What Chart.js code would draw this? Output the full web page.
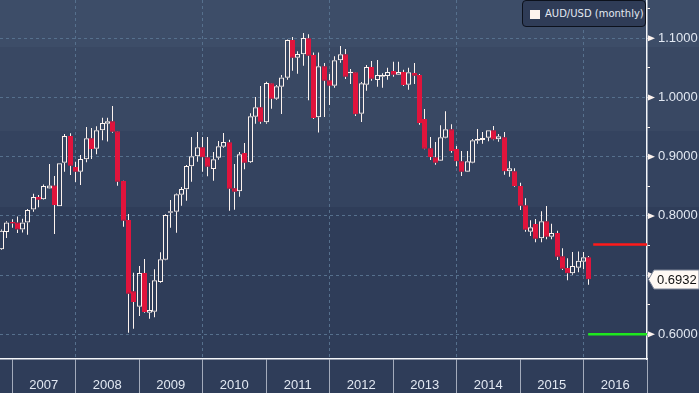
<!DOCTYPE html>
<html>
<head>
<meta charset="utf-8">
<script src="https://cdn.jsdelivr.net/npm/chart.js@4.4.1/dist/chart.umd.min.js"></script>
<style>
  html, body { margin: 0; padding: 0; }
  body {
    width: 699px; height: 393px; overflow: hidden; position: relative;
    background: linear-gradient(to bottom,
      #3d4d68 0, #3d4d68 47px,
      #394863 47px, #394863 131px,
      #34435f 131px, #34435f 207px,
      #2f3d59 207px, #2f3d59 100%);
  }
  #legend {
    position: absolute; left: 522px; top: 0; width: 122px; height: 25px;
    background: #2f3c57; border: 1px solid #0c111c; border-radius: 4px;
    font: 10px "DejaVu Sans", sans-serif; color: #e3e9f2;
  }
  #legend i { position: absolute; left: 7px; top: 9px; width: 10px; height: 9px; background: #fdf3ee; }
  #legend span { position: absolute; left: 22px; top: 7px; white-space: nowrap; }
</style>
</head>
<body>
<canvas id="chart" width="699" height="393"></canvas>
<div id="legend"><i></i><span>AUD/USD (monthly)</span></div>
<script>
// monthly candles, AUD/USD
const months = [
  "2006-10","2006-11","2006-12",
  "2007-01","2007-02","2007-03","2007-04","2007-05","2007-06","2007-07","2007-08","2007-09","2007-10","2007-11","2007-12",
  "2008-01","2008-02","2008-03","2008-04","2008-05","2008-06","2008-07","2008-08","2008-09","2008-10","2008-11","2008-12",
  "2009-01","2009-02","2009-03","2009-04","2009-05","2009-06","2009-07","2009-08","2009-09","2009-10","2009-11","2009-12",
  "2010-01","2010-02","2010-03","2010-04","2010-05","2010-06","2010-07","2010-08","2010-09","2010-10","2010-11","2010-12",
  "2011-01","2011-02","2011-03","2011-04","2011-05","2011-06","2011-07","2011-08","2011-09","2011-10","2011-11","2011-12",
  "2012-01","2012-02","2012-03","2012-04","2012-05","2012-06","2012-07","2012-08","2012-09","2012-10","2012-11","2012-12",
  "2013-01","2013-02","2013-03","2013-04","2013-05","2013-06","2013-07","2013-08","2013-09","2013-10","2013-11","2013-12",
  "2014-01","2014-02","2014-03","2014-04","2014-05","2014-06","2014-07","2014-08","2014-09","2014-10","2014-11","2014-12",
  "2015-01","2015-02","2015-03","2015-04","2015-05","2015-06","2015-07","2015-08","2015-09","2015-10","2015-11","2015-12",
  "2016-01"
];
const open = [
  .7435,.773,.789,
  .789,.777,.789,.811,.832,.828,.8465,.8515,.8162,.890,.935,.8826,
  .8747,.8956,.931,.9135,.9446,.9557,.9598,.9429,.859,.793,.6726,.6466,
  .7035,.6365,.6382,.6883,.726,.8054,.8071,.8358,.845,.8838,.9007,.9159,
  .899,.8792,.8983,.9169,.9243,.8466,.8416,.9062,.8905,.9676,.9834,.9581,
  1.024,.998,1.018,1.0334,1.0971,1.0672,1.073,1.100,1.0718,.9666,1.0527,1.029,
  1.020,1.0628,1.073,1.041,1.0426,.9726,1.0216,1.0515,1.0296,1.035,1.0363,1.0448,
  1.0385,1.0431,1.0216,1.0414,1.038,.9637,.9142,.899,.8932,.9321,.9463,.913,
  .8922,.8747,.8899,.927,.9282,.932,.9446,.9294,.9328,.8753,.8753,.8505,
  .8179,.7733,.7863,.7622,.7909,.7649,.7711,.7318,.712,.703,.7125,.7226,
  .730
];
const high = [
  .777,.791,.7945,
  .799,.795,.8115,.8375,.8355,.853,.8877,.8675,.889,.9385,.9395,.8916,
  .9029,.950,.9485,.9513,.966,.966,.9856,.9435,.8595,.8032,.704,.7154,
  .7272,.6867,.710,.7385,.803,.8268,.838,.8488,.886,.9333,.9417,.9333,
  .9333,.908,.9265,.940,.9287,.8877,.908,.9231,.9733,1.0008,1.0194,1.0267,
  1.0245,1.021,1.038,1.098,1.102,1.078,1.109,1.1068,1.076,1.076,1.0583,1.0397,
  1.0696,1.087,1.0818,1.0482,1.043,1.0262,1.055,1.0617,1.0634,1.0409,1.0503,1.0605,
  1.0605,1.047,1.0503,1.0583,1.0397,.9806,.9333,.9248,.953,.9767,.9547,.918,
  .9096,.9096,.930,.9468,.9417,.9446,.9519,.9383,.9417,.8922,.8804,.856,
  .830,.7926,.7947,.8078,.8167,.7868,.775,.7453,.7284,.739,.740,.739,
  .7323
];
const low = [
  .7425,.7625,.780,
  .771,.772,.768,.807,.8145,.8275,.846,.7695,.8162,.8744,.8693,.8574,
  .8522,.8905,.896,.904,.928,.9255,.9405,.851,.7818,.6027,.6095,.631,
  .6365,.6263,.629,.687,.725,.780,.7716,.8172,.8257,.8578,.8916,.8747,
  .8669,.8595,.895,.9152,.8088,.8105,.8324,.8787,.8894,.9557,.9557,.9557,
  .981,.996,.972,1.030,1.0453,1.040,1.0537,.9953,.9637,.941,.9671,.9873,
  1.0166,1.0588,1.0313,1.0228,.9688,.9586,1.0115,1.0284,1.0183,1.0166,1.030,1.035,
  1.038,1.0194,1.0132,1.0228,.954,.9125,.8944,.8865,.8927,.931,.9068,.8838,
  .8674,.8742,.889,.922,.922,.926,.928,.9253,.8696,.8662,.8493,.810,
  .7733,.766,.7554,.7554,.7605,.7605,.7255,.7086,.6912,.7007,.7047,.710,
  .6838
];
const close = [
  .775,.789,.787,
  .777,.789,.810,.832,.8275,.8505,.8515,.8185,.8889,.935,.8848,.8747,
  .8961,.931,.913,.9446,.957,.9598,.9422,.8578,.7919,.6686,.6546,.7035,
  .6377,.641,.6912,.7267,.8015,.8078,.8365,.8454,.8843,.9007,.9159,.899,
  .8831,.8956,.9176,.9248,.846,.8409,.904,.8899,.9682,.9834,.9591,1.0245,
  .998,1.019,1.034,1.0971,1.0672,1.0735,1.1005,1.0706,.9654,1.0527,1.0284,1.020,
  1.0628,1.073,1.0351,1.0426,.9716,1.024,1.0515,1.0318,1.038,1.038,1.0431,1.0385,
  1.0431,1.0211,1.0426,1.0368,.957,.9135,.8995,.8899,.9328,.9463,.9096,.8922,
  .8747,.8922,.9277,.930,.9316,.9446,.929,.9345,.8753,.8804,.8505,.8172,
  .7767,.7807,.7615,.7909,.7649,.7711,.7311,.7108,.703,.7154,.7243,.730,
  .6932
];

// horizontal levels drawn at the right end
const resistanceLevel = [0.7518, 0.7518];
const supportLevel = [0.6000, 0.6000];
const resistanceSpan = [2016.153, 2017];
const supportSpan = [2016.074, 2017];

// axis ticks
const yTicks = [0.60,0.65,0.70,0.75,0.80,0.85,0.90,0.95,1.00,1.05,1.10,1.15];
const xTicks = [2007,2007.5,2008,2008.5,2009,2009.5,2010,2010.5,2011,2011.5,2012,2012.5,
                2013,2013.5,2014,2014.5,2015,2015.5,2016,2016.5,2017];

const RED = "#e0143c";
const CREAM = "#fdf3ee";
const GRID = "#56708d";
const CLEAR = "rgba(0,0,0,0)";

// candle sits at the end of its month
function toX(m) {
  const [y, mo] = m.split("-").map(Number);
  return y + mo / 12;
}
const isUp = i => close[i] >= open[i];

const bodies = months.map((m, i) => ({ x: toX(m), y: [open[i], close[i]] }));
const upperWicks = months.map((m, i) => ({ x: toX(m), y: [Math.max(open[i], close[i]), high[i]] }));
const lowerWicks = months.map((m, i) => ({ x: toX(m), y: [low[i], Math.min(open[i], close[i])] }));

const isMajorY = v => Math.round(v * 100) % 10 === 0;

// snap candles to half pixels so 1px wicks stay crisp
const snapBars = {
  id: "snapBars",
  afterDatasetsUpdate(chart) {
    chart.data.datasets.forEach((ds, i) => {
      if (ds.type === "line") return;
      chart.getDatasetMeta(i).data.forEach(el => { el.x = Math.round(el.x - 0.5) + 0.5; });
    });
  }
};

const axisMarks = {
  id: "axisMarks",
  afterDraw(chart) {
    const { ctx, chartArea, scales } = chart;
    const ys = scales.y;
    const x0 = chartArea.right;
    ctx.save();
    ctx.fillStyle = CREAM;
    yTicks.filter(isMajorY).forEach(v => {
      const y = ys.getPixelForValue(v);
      ctx.beginPath();
      ctx.moveTo(x0 + 1, y - 3);
      ctx.lineTo(x0 + 8, y);
      ctx.lineTo(x0 + 1, y + 3);
      ctx.closePath();
      ctx.fill();
    });
    // last price tag
    const last = close[close.length - 1];
    const ty = Math.round(ys.getPixelForValue(last)) + 0.5;
    ctx.beginPath();
    ctx.moveTo(x0 + 1.5, ty);
    ctx.lineTo(x0 + 7, ty - 9.5);
    ctx.lineTo(699, ty - 9.5);
    ctx.lineTo(699, ty + 9.5);
    ctx.lineTo(x0 + 7, ty + 9.5);
    ctx.closePath();
    ctx.fillStyle = "#fff9f4";
    ctx.fill();
    ctx.strokeStyle = "#7d8597";
    ctx.lineWidth = 1;
    ctx.stroke();
    ctx.fillStyle = "#111";
    ctx.font = "13px 'Liberation Sans'";
    ctx.textBaseline = "middle";
    ctx.fillText(last.toFixed(4), x0 + 10, ty + 1);
    ctx.restore();
  }
};

new Chart(document.getElementById("chart"), {
  type: "bar",
  data: {
    datasets: [
      {
        type: "line", data: resistanceSpan.map((x, i) => ({ x, y: resistanceLevel[i] })),
        borderColor: "#ff1a1a", borderWidth: 2.5, pointRadius: 0, order: 0
      },
      {
        type: "line", data: supportSpan.map((x, i) => ({ x, y: supportLevel[i] })),
        borderColor: "#1ee81e", borderWidth: 2.5, pointRadius: 0, order: 0
      },
      {
        label: "AUD/USD (monthly)", data: bodies, barThickness: 5, minBarLength: 1.5,
        backgroundColor: months.map((m, i) => isUp(i) ? CLEAR : RED),
        borderColor: months.map((m, i) => isUp(i) ? CREAM : RED),
        borderWidth: 1, borderSkipped: false, inflateAmount: 0, order: 1
      },
      {
        data: upperWicks, barThickness: 1, backgroundColor: CREAM,
        borderWidth: 0, inflateAmount: 0, order: 2
      },
      {
        data: lowerWicks, barThickness: 1, backgroundColor: CREAM,
        borderWidth: 0, inflateAmount: 0, order: 2
      }
    ]
  },
  options: {
    responsive: false,
    animation: false,
    layout: { padding: 0 },
    datasets: { bar: { grouped: false } },
    plugins: { legend: { display: false }, tooltip: { enabled: false } },
    scales: {
      x: {
        type: "linear", min: 2006.81, max: 2017, offset: false,
        afterBuildTicks: s => { s.ticks = xTicks.map(v => ({ value: v })); },
        afterFit: s => { s.height = 34; s.paddingLeft = 0; s.paddingRight = 0; },
        grid: {
          offset: false,
          color: c => (c.tick && Number.isInteger(c.tick.value) && c.tick.value % 2 === 0) ? GRID : CLEAR,
          tickColor: c => (c.tick && Number.isInteger(c.tick.value)) ? "#a3abbb" : CLEAR,
          tickLength: 34, tickBorderDash: [], lineWidth: 1
        },
        border: { color: "#f4f6fa", width: 1.5, dash: [3, 3] },
        ticks: {
          autoSkip: false, maxRotation: 0, padding: -15, color: "#e2e8f2",
          font: { family: "'Liberation Sans'", size: 13 },
          callback: v => Number.isInteger(v) ? "" : String(Math.floor(v))
        }
      },
      y: {
        position: "right", min: 0.5583, max: 1.1647,
        afterBuildTicks: s => { s.ticks = yTicks.map(v => ({ value: v })); },
        afterFit: s => { s.width = 52; s.paddingTop = 0; s.paddingBottom = 0; },
        grid: {
          color: c => (c.tick && isMajorY(c.tick.value)) ? GRID : CLEAR,
          tickColor: CREAM, tickLength: 3, tickBorderDash: [], lineWidth: 1
        },
        border: { color: "#f4f6fa", width: 1.5, dash: [3, 3] },
        ticks: {
          padding: 8, color: "#e2e8f2",
          font: { family: "'Liberation Sans'", size: 13 },
          callback: v => isMajorY(v) ? v.toFixed(4) : ""
        }
      }
    }
  },
  plugins: [snapBars, axisMarks]
});
</script>
</body>
</html>
